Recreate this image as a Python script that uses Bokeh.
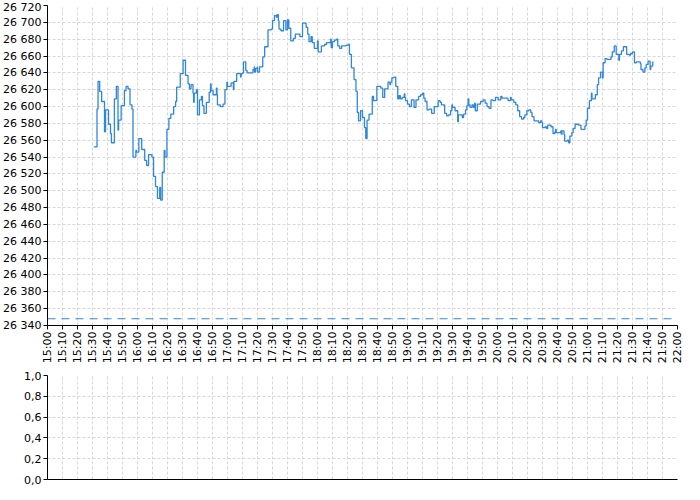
import math
import pandas as pd
from bokeh.plotting import figure
from bokeh.layouts import column
from bokeh.models import (Span, FixedTicker, DatetimeTickFormatter, Grid,
                          CustomJSTickFormatter, Range1d, ColumnDataSource)
from bokeh.embed import file_html
from bokeh.resources import INLINE

# ---------------- data ----------------
DAY = "2024-01-15"
SESSION_START = "15:00"
SESSION_END = "22:00"
PREV_CLOSE = 26348
PRICE_MIN, PRICE_MAX, PRICE_STEP = 26340, 26720, 20
VOL_MIN, VOL_MAX, VOL_STEP = 0.0, 1.0, 0.2

TIMES = [
    "15:30:52", "15:33:00", "15:33:42", "15:34:48", "15:36:06", "15:38:00", "15:38:42", "15:40:42",
    "15:42:00", "15:42:36", "15:44:36", "15:45:54", "15:47:00", "15:47:24", "15:49:06", "15:51:18",
    "15:52:24", "15:53:42", "15:55:00", "15:56:18", "15:57:00", "15:58:54", "15:59:18", "16:00:54",
    "16:02:48", "16:04:48", "16:06:06", "16:07:24", "16:09:36", "16:10:42", "16:12:00", "16:13:18",
    "16:14:48", "16:15:24", "16:16:30", "16:17:48", "16:18:18", "16:19:36", "16:20:54", "16:22:12",
    "16:24:06", "16:25:24", "16:26:06", "16:28:30", "16:30:24", "16:32:00", "16:33:42", "16:34:36",
    "16:35:42", "16:37:00", "16:37:24", "16:37:48", "16:39:18", "16:40:00", "16:41:18", "16:42:36",
    "16:43:18", "16:44:18", "16:45:54", "16:47:48", "16:48:42", "16:49:06", "16:50:24", "16:52:36",
    "16:53:00", "16:53:18", "16:55:12", "16:57:00", "16:58:18", "16:59:36", "17:00:00", "17:02:24",
    "17:03:54", "17:04:18", "17:06:06", "17:08:42", "17:09:06", "17:10:00", "17:10:40", "17:12:10",
    "17:13:02", "17:16:58", "17:17:50", "17:18:03", "17:18:42", "17:19:47", "17:20:00", "17:21:18",
    "17:23:30", "17:24:47", "17:27:00", "17:29:08", "17:30:00", "17:31:18", "17:32:36", "17:33:00",
    "17:33:55", "17:34:21", "17:35:39", "17:37:23", "17:38:55", "17:40:00", "17:40:52", "17:42:10",
    "17:43:55", "17:45:13", "17:48:16", "17:50:00", "17:52:24", "17:53:29", "17:54:21", "17:55:39",
    "17:56:31", "17:57:50", "18:00:00", "18:00:26", "18:02:36", "18:04:47", "18:06:05", "18:08:42",
    "18:09:08", "18:10:00", "18:11:18", "18:12:36", "18:13:30", "18:14:47", "18:16:05", "18:19:08",
    "18:20:52", "18:21:18", "18:22:36", "18:24:21", "18:25:39", "18:26:31", "18:27:23", "18:28:42",
    "18:30:00", "18:31:18", "18:32:10", "18:33:03", "18:34:21", "18:36:31", "18:37:23", "18:39:34",
    "18:42:10", "18:43:29", "18:44:47", "18:47:00", "18:48:16", "18:48:42", "18:49:34", "18:50:52",
    "18:52:10", "18:53:29", "18:54:21", "18:55:13", "18:56:31", "18:57:50", "18:58:16", "18:58:42",
    "19:00:00", "19:01:18", "19:02:36", "19:04:21", "19:05:39", "19:07:23", "19:08:42", "19:10:00",
    "19:10:52", "19:11:44", "19:13:00", "19:14:21", "19:16:05", "19:17:50", "19:20:26", "19:21:44",
    "19:22:36", "19:24:47", "19:26:05", "19:27:23", "19:28:42", "19:29:34", "19:30:00", "19:31:44",
    "19:33:29", "19:33:55", "19:36:31", "19:37:23", "19:38:42", "19:39:34", "19:40:26", "19:40:52",
    "19:41:44", "19:43:00", "19:43:55", "19:44:47", "19:45:13", "19:46:31", "19:48:42", "19:50:26",
    "19:51:44", "19:53:00", "19:54:21", "19:55:39", "19:57:00", "19:58:42", "20:00:26", "20:02:10",
    "20:03:00", "20:07:00", "20:08:42", "20:09:08", "20:10:52", "20:12:10", "20:13:29", "20:14:47",
    "20:16:05", "20:17:23", "20:18:16", "20:19:34", "20:20:52", "20:22:10", "20:23:00", "20:24:21",
    "20:27:23", "20:28:42", "20:29:34", "20:30:00", "20:31:44", "20:32:36", "20:33:29", "20:35:39",
    "20:37:00", "20:38:16", "20:38:42", "20:39:08", "20:42:10", "20:42:36", "20:43:00", "20:44:21",
    "20:44:47", "20:46:31", "20:47:23", "20:48:16", "20:49:34", "20:50:26", "20:51:44", "20:53:55",
    "20:55:39", "20:58:16", "20:59:08", "21:00:00", "21:01:18", "21:02:36", "21:03:00", "21:05:13",
    "21:06:31", "21:07:23", "21:08:42", "21:10:00", "21:10:26", "21:11:44", "21:13:00", "21:15:39",
    "21:16:31", "21:17:50", "21:19:08", "21:20:52", "21:21:18", "21:22:36", "21:23:55", "21:26:05",
    "21:27:50", "21:28:42", "21:30:00", "21:31:18", "21:32:36", "21:35:13", "21:35:39", "21:37:00",
    "21:38:16", "21:39:08", "21:40:26", "21:41:44", "21:42:10", "21:43:29", "21:44:00",
]

PRICES = [
    26552, 26597, 26630, 26618, 26606, 26570, 26596, 26579,
    26568, 26557, 26609, 26624, 26572, 26584, 26601, 26619,
    26624, 26621, 26602, 26597, 26540, 26548, 26546, 26562,
    26549, 26536, 26530, 26543, 26540, 26517, 26505, 26491,
    26504, 26489, 26522, 26548, 26540, 26573, 26586, 26591,
    26600, 26606, 26623, 26639, 26655, 26637, 26627, 26621,
    26626, 26616, 26605, 26616, 26620, 26590, 26608, 26612,
    26601, 26592, 26605, 26617, 26627, 26619, 26614, 26622,
    26614, 26602, 26600, 26603, 26620, 26629, 26624, 26628,
    26620, 26630, 26639, 26635, 26639, 26640, 26653, 26643,
    26640, 26644, 26647, 26641, 26645, 26647, 26641, 26647,
    26659, 26671, 26691, 26692, 26702, 26708, 26706, 26709,
    26702, 26692, 26690, 26702, 26691, 26703, 26693, 26678,
    26681, 26686, 26683, 26699, 26694, 26686, 26677, 26683,
    26676, 26669, 26678, 26665, 26672, 26674, 26676, 26680,
    26670, 26677, 26679, 26680, 26672, 26669, 26672, 26673,
    26674, 26662, 26646, 26632, 26618, 26593, 26583, 26595,
    26587, 26575, 26562, 26584, 26591, 26612, 26607, 26624,
    26622, 26611, 26621, 26629, 26626, 26629, 26634, 26635,
    26624, 26609, 26613, 26609, 26611, 26615, 26611, 26607,
    26603, 26600, 26608, 26599, 26608, 26612, 26614, 26616,
    26610, 26606, 26596, 26597, 26592, 26600, 26607, 26605,
    26602, 26592, 26589, 26590, 26595, 26602, 26599, 26595,
    26582, 26590, 26587, 26591, 26596, 26601, 26609, 26602,
    26599, 26602, 26599, 26604, 26595, 26603, 26606, 26608,
    26604, 26600, 26598, 26608, 26607, 26611, 26608, 26612,
    26610, 26607, 26611, 26608, 26605, 26602, 26595, 26588,
    26585, 26587, 26590, 26595, 26596, 26593, 26588, 26583,
    26581, 26583, 26581, 26575, 26576, 26574, 26578, 26576,
    26568, 26570, 26573, 26569, 26571, 26567, 26571, 26567,
    26559, 26560, 26557, 26565, 26569, 26574, 26579, 26578,
    26573, 26577, 26584, 26598, 26607, 26616, 26609, 26614,
    26626, 26634, 26641, 26634, 26652, 26657, 26656, 26659,
    26665, 26672, 26662, 26655, 26662, 26666, 26671, 26662,
    26661, 26663, 26665, 26652, 26653, 26651, 26644, 26641,
    26646, 26650, 26654, 26644, 26648, 26653, 26653,
]

# ---------------- styling ----------------
FONT = "DejaVu Sans"
FSIZE = "11px"
LINE_COLOR = "#2f87dc"
GRID_COLOR = "#d7d7d7"

t = pd.to_datetime([f"{DAY} {s}" for s in TIMES])
src = ColumnDataSource(dict(t=t, price=PRICES))
x0 = pd.Timestamp(f"{DAY} {SESSION_START}")
x1 = pd.Timestamp(f"{DAY} {SESSION_END}")
x_ticks = [int(ts.value // 10**6) for ts in pd.date_range(x0, x1, freq="10min")]

n_p = int(round((PRICE_MAX - PRICE_MIN) / PRICE_STEP))
price_ticks = [PRICE_MIN + i * PRICE_STEP for i in range(n_p + 1)]
n_v = int(round((VOL_MAX - VOL_MIN) / VOL_STEP))
vol_ticks = [round(VOL_MIN + i * VOL_STEP, 6) for i in range(n_v + 1)]

time_fmt = DatetimeTickFormatter(minutes="%H:%M", hourmin="%H:%M", hours="%H:%M",
                                 minsec="%H:%M", seconds="%H:%M", days="%H:%M")
price_fmt = CustomJSTickFormatter(code=r"""
    return Math.round(tick).toString().replace(/\B(?=(\d{3})+(?!\d))/g, ' ');
""")
vol_fmt = CustomJSTickFormatter(code="return tick.toFixed(1).replace('.', ',');")


def style_grid(g):
    g.grid_line_color = GRID_COLOR
    g.grid_line_dash = "3 2"
    g.grid_line_width = 1


def style(p):
    p.outline_line_color = None
    p.background_fill_color = "white"
    p.border_fill_color = "white"
    for ax in list(p.xaxis) + list(p.yaxis):
        ax.axis_line_color = "black"
        ax.axis_line_width = 1
        ax.major_tick_line_color = "black"
        ax.major_tick_out = 4
        ax.major_tick_in = 0
        ax.minor_tick_line_color = None
        ax.major_label_text_font = FONT
        ax.major_label_text_font_size = FSIZE
        ax.major_label_text_color = "black"
        ax.major_label_standoff = 2
    for g in (p.xgrid, p.ygrid):
        style_grid(g)


# ---------------- price panel ----------------
p1 = figure(x_axis_type="datetime", x_range=Range1d(x0, x1),
            y_range=Range1d(PRICE_MIN, PRICE_MAX),
            frame_width=630, frame_height=320,
            min_border_left=47, min_border_right=7, min_border_top=5, min_border_bottom=40,
            output_backend="svg", toolbar_location=None)
p1.xaxis.ticker = FixedTicker(ticks=x_ticks, minor_ticks=[])
p1.xaxis.formatter = time_fmt
p1.xaxis.major_label_orientation = math.pi / 2
p1.yaxis.ticker = FixedTicker(ticks=price_ticks, minor_ticks=[])
p1.yaxis.formatter = price_fmt
style(p1)

p1.add_layout(Span(location=PREV_CLOSE, dimension="width", line_color=LINE_COLOR,
                   line_width=1, line_dash="8 6"))
p1.step("t", "price", source=src, mode="after", line_color=LINE_COLOR, line_width=1.3)

# ---------------- volume panel ----------------
p2 = figure(x_axis_type="datetime", x_range=p1.x_range,
            y_range=Range1d(VOL_MIN, VOL_MAX),
            frame_width=630, frame_height=104,
            min_border_left=47, min_border_right=7, min_border_top=9, min_border_bottom=6,
            output_backend="svg", toolbar_location=None)
p2.xaxis.ticker = FixedTicker(ticks=[], minor_ticks=[])
p2.xaxis.formatter = time_fmt
p2.yaxis.ticker = FixedTicker(ticks=vol_ticks, minor_ticks=[])
p2.yaxis.formatter = vol_fmt
style(p2)
p2.xgrid.visible = False
vgrid = Grid(dimension=0, ticker=FixedTicker(ticks=x_ticks, minor_ticks=[]))
style_grid(vgrid)
p2.add_layout(vgrid, "center")

layout = column(p1, p2, spacing=0)

with open("out.html", "w") as f:
    f.write(file_html(layout, INLINE))
